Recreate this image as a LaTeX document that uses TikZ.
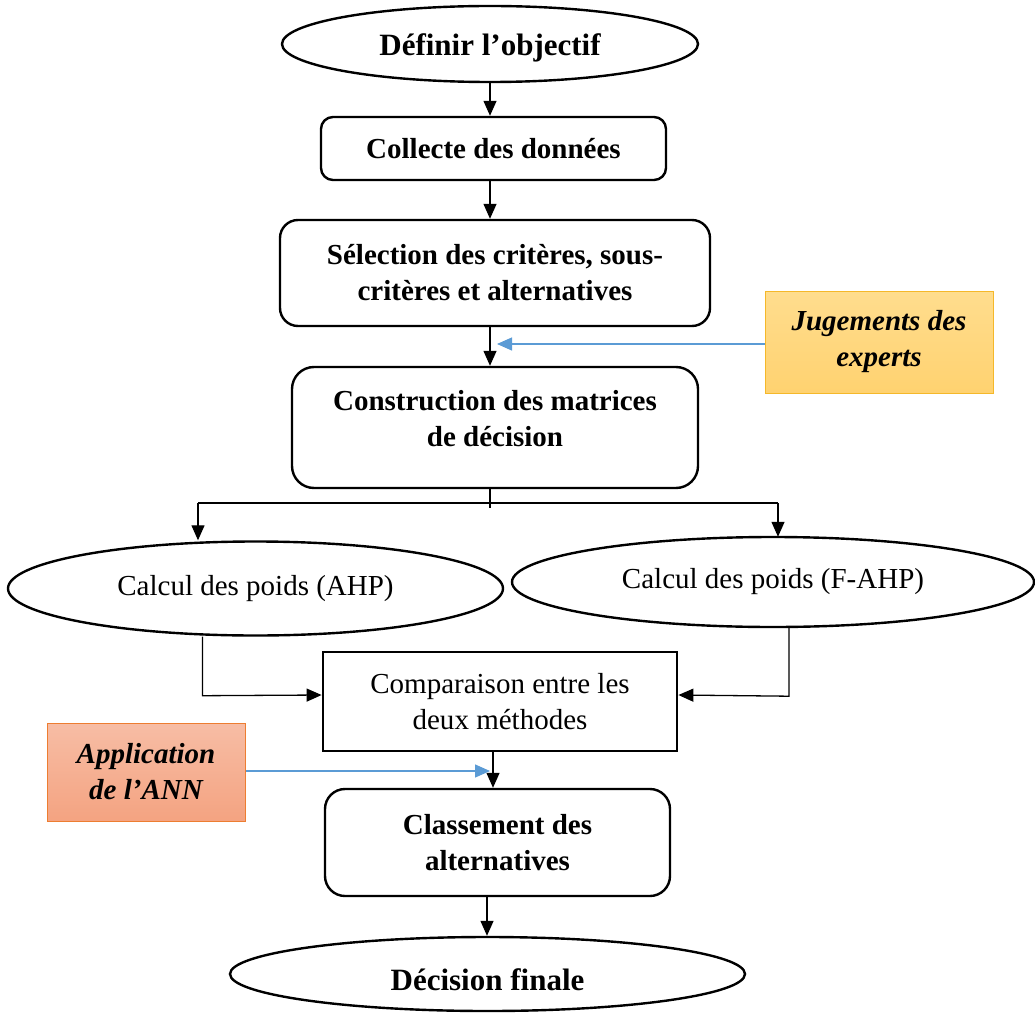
\documentclass[tikz,border=0pt]{standalone}
\usepackage{fontspec}
\setmainfont{Liberation Serif}
\usetikzlibrary{arrows.meta,shapes.geometric,calc}
\definecolor{bluel}{HTML}{5B9BD5}
\definecolor{jugtop}{HTML}{FFDD8E}
\definecolor{jugbot}{HTML}{FFD270}
\definecolor{jugbd}{HTML}{F5B82A}
\definecolor{apptop}{HTML}{F7BDA5}
\definecolor{appbot}{HTML}{F4A381}
\definecolor{appbd}{HTML}{ED7D31}
\begin{document}
\begin{tikzpicture}[x=1pt,y=-1pt,
  txt/.style={font=\fontsize{29}{36}\selectfont, align=center, text=black},
  rbox/.style={draw, line width=2.4pt, rectangle, rounded corners=#1, inner sep=0pt, txt, font=\fontsize{29}{36}\selectfont\bfseries},
  ell/.style={draw, line width=2.4pt, ellipse, inner sep=0pt, txt},
  arr/.style={line width=1.3pt, -{Triangle[length=15pt,width=13pt]}},
  barr/.style={line width=1.3pt, draw=bluel, -{Triangle[length=15pt,width=13pt,fill=bluel]}},
  ln/.style={line width=1.3pt}
]
\useasboundingbox (0,0) rectangle (1035,1016);

% nodes
\node[ell, minimum width=416pt, minimum height=76pt, font=\fontsize{31}{36}\selectfont\bfseries] (obj) at (490,44) {\raisebox{-4pt}[\height][\depth]{Définir l’objectif}};
\node[rbox=12pt, minimum width=345pt, minimum height=63pt] (col) at (493.5,148.5) {Collecte des données};
\node[rbox=18pt, minimum width=430pt, minimum height=106pt] (sel) at (495,273) {Sélection des critères, sous-\\critères et alternatives};
\node[rbox=22pt, minimum width=406pt, minimum height=121pt] (con) at (495,427.5) {\raisebox{6pt}[\height][\depth]{\begin{tabular}{@{}c@{}}Construction des matrices\\de décision\end{tabular}}};
\node[draw=jugbd, line width=1pt, top color=jugtop, bottom color=jugbot, minimum width=228pt, minimum height=102pt, inner sep=0pt, txt, font=\fontsize{29}{36}\selectfont\bfseries\itshape] (jug) at (879,342) {Jugements des\\experts};
\node[ell, minimum width=495pt, minimum height=94pt] (ahp) at (255.5,588.5) {Calcul des poids (AHP)};
\node[ell, minimum width=522pt, minimum height=90pt] (fahp) at (773,582) {Calcul des poids (F-AHP)};
\node[draw, line width=2.8pt, rectangle, minimum width=354pt, minimum height=99pt, inner sep=0pt, txt] (comp) at (500,701.5) {Comparaison entre les\\deux méthodes};
\node[draw=appbd, line width=1pt, top color=apptop, bottom color=appbot, minimum width=198pt, minimum height=98pt, inner sep=0pt, txt, font=\fontsize{29}{36}\selectfont\bfseries\itshape] (app) at (146,772) {Application\\de l’ANN};
\node[rbox=20pt, minimum width=345pt, minimum height=107pt] (cls) at (497.5,842.5) {Classement des\\alternatives};
\node[ell, minimum width=515pt, minimum height=74pt, font=\fontsize{31}{36}\selectfont\bfseries] (dec) at (487.5,974) {\raisebox{-6pt}[\height][\depth]{Décision finale}};

% coordinates
\coordinate (sl) at (198,503);
\coordinate (sr) at (778,503);
\coordinate (jt) at (497,344);
\coordinate (at) at (490,771);

% connectors
\draw[arr] (obj.south) -- (obj.south |- col.north);
\draw[arr] ([xshift=-3.5pt]col.south) -- ([xshift=-3.5pt]col.south |- sel.north);
\draw[arr] ([xshift=-5pt]sel.south) -- ([xshift=-5pt]sel.south |- con.north);
\draw[barr] (jug.west |- jt) -- (jt);
\draw[ln] ([xshift=-5pt]con.south) -- ++(0,19);
\draw[ln] (sl) -- (sr);
\draw[arr] (sl) -- (sl |- ahp.north);
\draw[arr] (sr) -- ([yshift=-1pt]sr |- fahp.north);
\draw[arr] ([xshift=-53pt]ahp.south) -- ++(0,59) -- (comp.west |- 0,695);
\draw[arr] ([xshift=16pt]fahp.south) -- ++(0,68) -- (comp.east |- 0,695);
\draw[arr] ([xshift=-7pt]comp.south) -- ([xshift=-7pt]comp.south |- cls.north);
\draw[barr] (app.east |- at) -- (at);
\draw[arr] ([xshift=-10.5pt]cls.south) -- ([xshift=-10.5pt]cls.south |- dec.north);
\end{tikzpicture}
\end{document}
